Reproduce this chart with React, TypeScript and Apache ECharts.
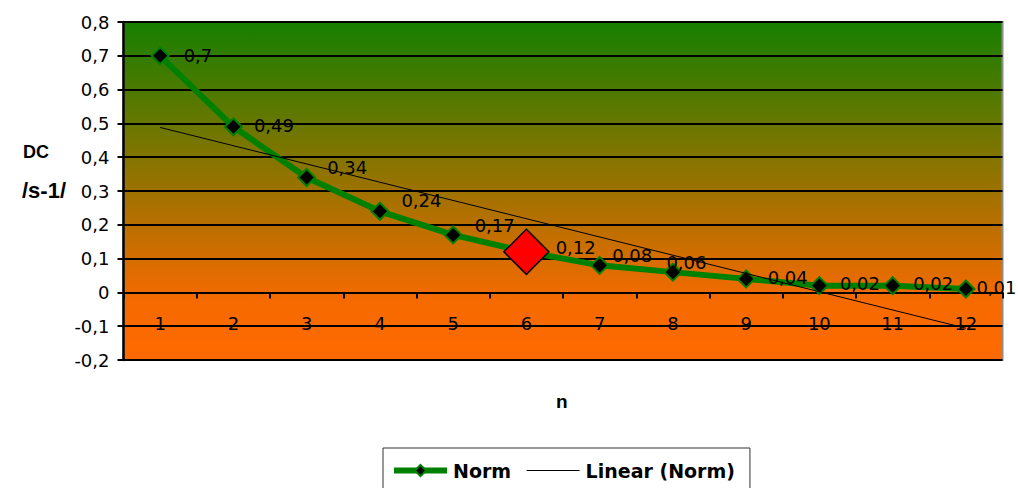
import React, { useEffect, useRef } from "react";
import * as echarts from "echarts";

const categories = ["1", "2", "3", "4", "5", "6", "7", "8", "9", "10", "11", "12"];
const normValues = [0.7, 0.49, 0.34, 0.24, 0.17, 0.12, 0.08, 0.06, 0.04, 0.02, 0.02, 0.01];
const trendCategories = ["1", "12"];
const trendValues = [0.488, -0.106];
const highlightIndex = 5;
const yTicks = { min: -0.2, max: 0.8, interval: 0.1 };

const labelOffsets: [number, number][] = [
  [2, 0], [-1, -1], [-1, -10], [0, -11], [0, -9], [0, -4],
  [-9, -10], [-28, -10], [0, -1], [-1, -2], [-1, -2], [-11, -2],
];

const fmt = (v: number) => {
  const r = Math.round(v * 100) / 100;
  return String(r).replace(".", ",");
};

export default function App() {
  const ref = useRef<HTMLDivElement>(null);
  useEffect(() => {
    document.body.style.margin = "0";
    const chart = echarts.init(ref.current!, null, { renderer: "svg" });
    const labelFont = "'DejaVu Sans', sans-serif";
    const gridTop = 22;
    const gridBottom = 128;
    const gridHeight = 488 - gridTop - gridBottom;
    const zeroOffset = -gridHeight * (0 - yTicks.min) / (yTicks.max - yTicks.min);
    const normData = normValues.map((v, i) => {
      const item: any = {
        value: v,
        label: { offset: labelOffsets[i] },
      };
      if (i === highlightIndex) {
        item.symbolSize = 45;
        item.itemStyle = { color: "#ff0000", borderColor: "#000000", borderWidth: 1.5 };
        item.label = { offset: labelOffsets[i], distance: 6 };
      }
      return item;
    });
    chart.setOption({
      animation: false,
      backgroundColor: "#ffffff",
      grid: {
        left: 123.5,
        right: 15.5,
        top: gridTop,
        bottom: gridBottom,
        show: true,
        borderColor: "#8c8c8c",
        borderWidth: 2,
        backgroundColor: new echarts.graphic.LinearGradient(0, 0, 0, 1, [
          { offset: 0, color: "#167f00" },
          { offset: 0.82, color: "#f56a00" },
          { offset: 1, color: "#ff6a00" },
        ]),
      },
      xAxis: {
        type: "category",
        data: categories,
        boundaryGap: true,
        offset: zeroOffset,
        axisLine: { onZero: false, lineStyle: { color: "#000", width: 2 } },
        axisTick: { show: true, length: 6, lineStyle: { color: "#000", width: 2 } },
        axisLabel: { margin: 22, color: "#000", fontSize: 18, fontFamily: labelFont },
        splitLine: { show: false },
      },
      yAxis: {
        type: "value",
        min: yTicks.min,
        max: yTicks.max,
        interval: yTicks.interval,
        axisLine: { show: true, lineStyle: { color: "#000", width: 2.5 } },
        axisTick: { show: true, length: 6, lineStyle: { color: "#000", width: 2 } },
        axisLabel: {
          margin: 14,
          color: "#000",
          fontSize: 18,
          fontFamily: labelFont,
          formatter: (v: number) => String(Math.round(v * 10) / 10).replace(".", ","),
        },
        splitLine: { show: true, lineStyle: { color: "#000", width: 2 } },
      },
      legend: {
        left: 383,
        top: 448,
        orient: "horizontal",
        borderColor: "#333",
        borderWidth: 1,
        backgroundColor: "#fff",
        padding: [13, 15, 30, 8],
        itemWidth: 53,
        itemHeight: 14,
        itemGap: 15,
        textStyle: {
          color: "#000",
          fontSize: 19,
          fontWeight: "bold",
          fontFamily: labelFont,
          padding: [0, 0, 0, 1],
        },
        data: [
          { name: "Norm", lineStyle: { width: 6, color: "#008000" } },
          {
            name: "Linear (Norm)",
            lineStyle: { width: 1, color: "#000" },
            itemStyle: { color: "transparent", borderColor: "transparent", borderWidth: 0, opacity: 0 },
          },
        ],
      },
      series: [
        {
          name: "Linear (Norm)",
          type: "line",
          data: trendCategories.map((c, i) => [c, trendValues[i]]),
          symbol: "none",
          lineStyle: { color: "#000", width: 1 },
          itemStyle: { color: "#000" },
          z: 3,
        },
        {
          name: "Norm",
          type: "line",
          data: normData,
          symbol: "diamond",
          symbolSize: 17,
          lineStyle: { color: "#008000", width: 6 },
          itemStyle: { color: "#000", borderColor: "#008000", borderWidth: 2 },
          label: {
            show: true,
            position: "right",
            distance: 12,
            color: "#000",
            fontSize: 18,
            fontFamily: labelFont,
            formatter: (p: any) => fmt(p.value),
          },
          z: 2,
        },
      ],
      graphic: [
        {
          type: "text",
          left: 23,
          top: 143,
          style: { text: "DC", fontSize: 18, fontWeight: "bold", fill: "#000", fontFamily: "'Liberation Sans', Arial, sans-serif" },
        },
        {
          type: "text",
          left: 22,
          top: 179,
          style: { text: "/s-1/", fontSize: 22, fontWeight: "bold", fill: "#000", fontFamily: "'Liberation Sans', Arial, sans-serif" },
        },
        {
          type: "text",
          left: 556,
          top: 392,
          style: { text: "n", fontSize: 19, fontWeight: "bold", fill: "#000", fontFamily: "'Liberation Sans', Arial, sans-serif" },
        },
      ],
    });
    return () => chart.dispose();
  }, []);
  return <div ref={ref} style={{ width: 1018, height: 488 }} />;
}
